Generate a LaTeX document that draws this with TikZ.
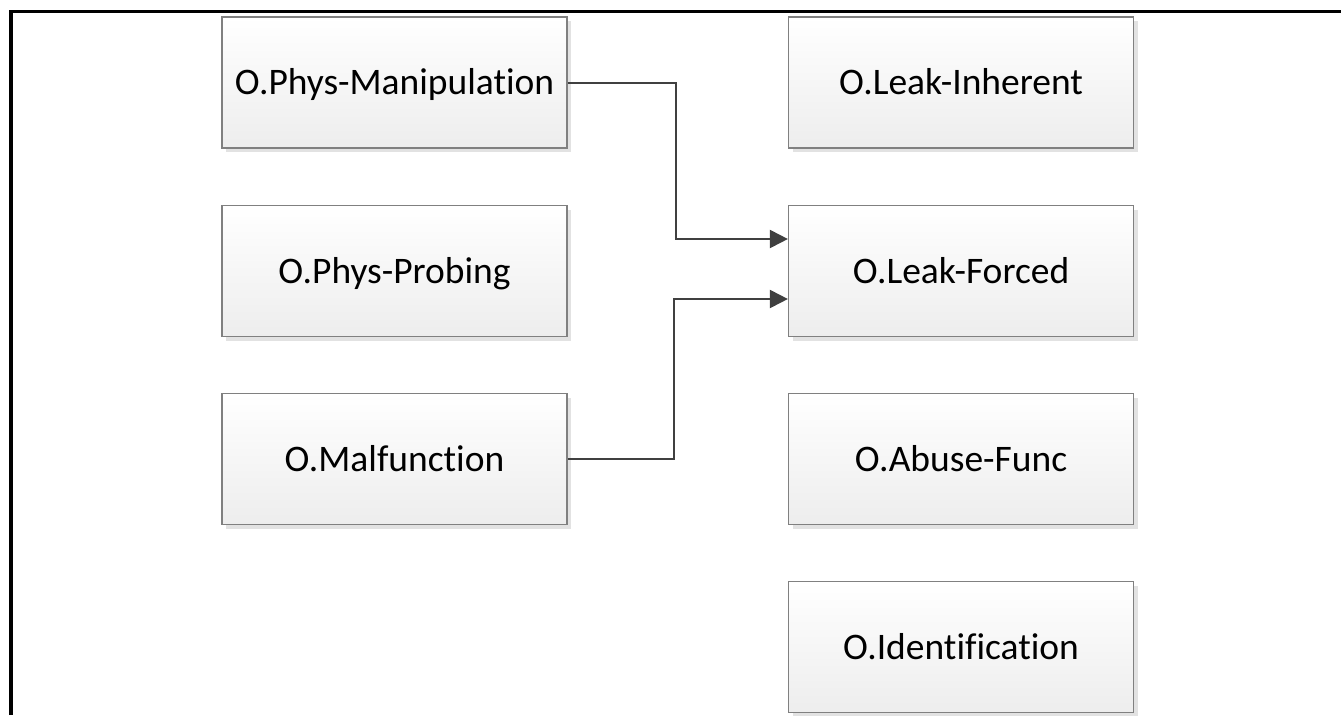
\documentclass[tikz,border=0pt]{standalone}
\usepackage{fontspec}
\setmainfont[Ligatures=NoCommon]{Carlito}
\usetikzlibrary{arrows.meta,shadows,positioning}
\definecolor{boxline}{HTML}{808080}
\definecolor{arrowc}{HTML}{404040}
\definecolor{shadowc}{HTML}{E2E2E2}
\tikzset{
  objbox/.style={draw=boxline, line width=1.2pt, top color=white, bottom color=black!7,
    minimum width=345pt, minimum height=131pt, inner sep=0pt,
    text height=24pt, text depth=0pt,
    font=\fontsize{37.5}{44}\selectfont,
    drop shadow={shadow xshift=4pt, shadow yshift=-4pt, fill=shadowc, opacity=1}},
  conn/.style={draw=arrowc, line width=2pt, -{Triangle[length=18pt,width=18pt]}}
}
\begin{document}
\begin{tikzpicture}[x=1pt,y=-1pt]
\useasboundingbox (0,0) rectangle (1341,715);
\draw[line width=3.2pt] (11,715) -- (11,11.5) -- (1341,11.5);
\node[objbox] (pm) at (394.5,82.5) {O.Phys-Manipulation};
\node[objbox] (pp) at (394.5,271) {O.Phys-Probing};
\node[objbox] (mf) at (394.5,459) {O.Malfunction};
\node[objbox] (li) at (961,82.5) {O.Leak-Inherent};
\node[objbox] (lf) at (961,271) {O.Leak-Forced};
\node[objbox] (af) at (961,459) {O.Abuse-Func};
\node[objbox] (id) at (961,647) {O.Identification};
\draw[conn] (pm.east) -- ++(108pt,0) |- ([yshift=32pt]lf.west);
\draw[conn] (mf.east) -- ++(106pt,0) |- ([yshift=-28pt]lf.west);
\end{tikzpicture}
\end{document}
